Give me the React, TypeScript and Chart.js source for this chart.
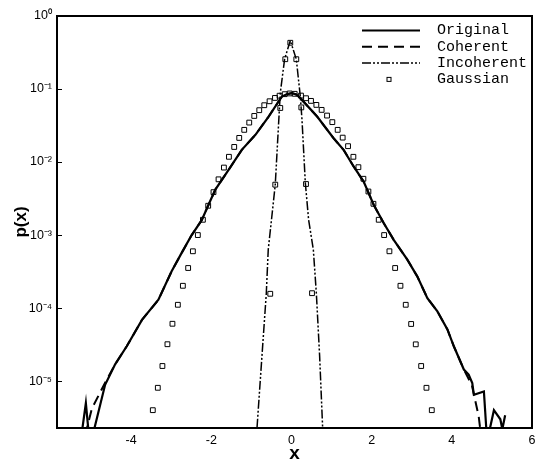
import React, { useEffect, useRef } from 'react';
import { Chart, registerables } from 'chart.js';

Chart.register(...registerables);

// ---- tick definitions ----
const xTickValues = [-4, -2, 0, 2, 4, 6];
const yTickValues = [1, 1e-1, 1e-2, 1e-3, 1e-4, 1e-5];
const yTickLabels = ['10⁰', '10⁻¹', '10⁻²', '10⁻³', '10⁻⁴', '10⁻⁵'];

// ---- series: Original (solid) ----
const originalX = [-5.26, -5.13, -5.04, -4.94, -4.65, -4.40, -4.11, -3.73, -3.32, -2.99, -2.74, -2.49, -2.24, -2.07, -1.90, -1.57, -1.24, -0.90, -0.57, -0.24, -0.12, 0.01, 0.12, 0.22, 0.64, 1.05, 1.30, 1.55, 1.80, 2.05, 2.30, 2.55, 2.89, 3.14, 3.39, 3.64, 3.89, 4.05, 4.30, 4.42, 4.51, 4.55, 4.80, 4.88, 5.05, 5.21, 5.26, 5.33];
const originalY = [1.5e-6, 5.0e-6, 1.5e-6, 2.0e-6, 8.9e-6, 1.7e-5, 3.0e-5, 6.9e-5, 1.3e-4, 3.2e-4, 5.7e-4, 1.0e-3, 1.6e-3, 2.6e-3, 4.2e-3, 7.8e-3, 1.47e-2, 2.36e-2, 4.2e-2, 7.9e-2, 8.5e-2, 8.8e-2, 8.4e-2, 7.5e-2, 4.2e-2, 2.12e-2, 1.47e-2, 8.7e-3, 5.4e-3, 2.6e-3, 1.46e-3, 8.6e-4, 4.6e-4, 2.7e-4, 1.37e-4, 9.0e-5, 5.1e-5, 3.0e-5, 1.44e-5, 1.23e-5, 9.4e-6, 6.5e-6, 7.2e-6, 1.5e-6, 4.0e-6, 3.0e-6, 2.2e-6, 3.4e-6];

// ---- series: Coherent (dashed) ----
const coherentX = [-5.15, -4.98, -4.65, -4.40, -4.11, -3.73, -3.32, -2.99, -2.74, -2.49, -2.24, -1.90, -1.57, -1.24, -0.90, -0.57, -0.24, -0.12, 0.01, 0.12, 0.22, 0.64, 1.05, 1.30, 1.55, 1.80, 2.05, 2.30, 2.55, 2.89, 3.14, 3.39, 3.64, 3.89, 4.05, 4.30, 4.50, 4.67, 4.74];
const coherentY = [1.8e-6, 4.2e-6, 9.5e-6, 1.7e-5, 3.0e-5, 6.9e-5, 1.3e-4, 3.2e-4, 5.7e-4, 1.0e-3, 1.6e-3, 4.2e-3, 7.8e-3, 1.47e-2, 2.36e-2, 4.2e-2, 7.9e-2, 8.5e-2, 8.8e-2, 8.4e-2, 7.5e-2, 4.2e-2, 2.12e-2, 1.47e-2, 8.7e-3, 5.4e-3, 2.6e-3, 1.46e-3, 8.6e-4, 4.6e-4, 2.7e-4, 1.37e-4, 9.0e-5, 5.1e-5, 3.0e-5, 1.44e-5, 8.8e-6, 3.3e-6, 1.6e-6];

// ---- series: Incoherent (dash-dot-dot) ----
const incoherentX = [-0.86, -0.737, -0.629, -0.58, -0.405, -0.28, -0.172, -0.03, 0.12, 0.22, 0.262, 0.345, 0.427, 0.545, 0.62, 0.702, 0.777];
const incoherentY = [2.3e-6, 2.2e-5, 1.57e-4, 6.3e-4, 4.9e-3, 8.8e-2, 0.256, 0.46, 0.256, 7.9e-2, 3.8e-2, 5.2e-3, 1.62e-3, 6.3e-4, 1.6e-4, 2.2e-5, 2.3e-6];

// ---- series: Gaussian (squares) ----
const gaussianX = [-3.46, -3.335, -3.22, -3.095, -2.97, -2.835, -2.71, -2.578, -2.46, -2.336, -2.21, -2.078, -1.946, -1.82, -1.686, -1.561, -1.429, -1.304, -1.179, -1.054, -0.929, -0.804, -0.679, -0.547, -0.412, -0.297, -0.17, -0.045, 0.08, 0.237, 0.362, 0.487, 0.62, 0.752, 0.887, 1.019, 1.152, 1.277, 1.411, 1.544, 1.669, 1.794, 1.919, 2.044, 2.176, 2.311, 2.443, 2.586, 2.718, 2.85, 2.985, 3.10, 3.235, 3.367, 3.50];
const gaussianY = [4.0e-6, 8.1e-6, 1.61e-5, 3.2e-5, 6.1e-5, 1.11e-4, 2.02e-4, 3.54e-4, 6.0e-4, 1.0e-3, 1.62e-3, 2.52e-3, 3.87e-3, 5.8e-3, 8.4e-3, 1.18e-2, 1.61e-2, 2.14e-2, 2.76e-2, 3.47e-2, 4.28e-2, 5.13e-2, 6.0e-2, 6.8e-2, 7.55e-2, 8.1e-2, 8.5e-2, 8.7e-2, 8.6e-2, 8.13e-2, 7.48e-2, 6.88e-2, 6.06e-2, 5.18e-2, 4.33e-2, 3.52e-2, 2.76e-2, 2.16e-2, 1.65e-2, 1.18e-2, 8.5e-3, 5.9e-3, 3.95e-3, 2.68e-3, 1.62e-3, 1.0e-3, 6.0e-4, 3.54e-4, 2.02e-4, 1.11e-4, 6.06e-5, 3.19e-5, 1.61e-5, 8.1e-6, 4.0e-6];

// Gaussian fit points of the incoherent part (same marker)
const gaussianIncX = [-0.53, -0.405, -0.28, -0.155, -0.03, 0.12, 0.245, 0.362, 0.512];
const gaussianIncY = [1.57e-4, 4.9e-3, 5.5e-2, 0.256, 0.43, 0.256, 5.6e-2, 5.0e-3, 1.6e-4];

const toPoints = (xs: number[], ys: number[]) => xs.map((x, i) => ({ x, y: ys[i] }));

const SANS = '"Liberation Sans", Arial, Helvetica, sans-serif';
const MONO = '"Liberation Mono", "Courier New", monospace';

const framePlugin = {
  id: 'frameAndTicks',
  afterDatasetsDraw(chart: any) {
    const { ctx, chartArea: a, scales } = chart;
    ctx.save();
    ctx.strokeStyle = '#000';
    ctx.lineWidth = 1;
    ctx.setLineDash([]);
    yTickValues.forEach((v) => {
      const y = Math.round(scales.y.getPixelForValue(v)) + 0.5;
      ctx.beginPath();
      ctx.moveTo(a.left, y);
      ctx.lineTo(a.left + 5, y);
      ctx.stroke();
    });
    ctx.lineWidth = 2;
    ctx.strokeRect(a.left, a.top, a.right - a.left, a.bottom - a.top);
    ctx.restore();
  },
};

const legendPlugin = {
  id: 'sideLegend',
  afterDraw(chart: any) {
    const { ctx, chartArea: a } = chart;
    const entries = chart.data.datasets.filter((d: any) => !d.hideInLegend);
    ctx.save();
    ctx.font = `15px ${MONO}`;
    ctx.textBaseline = 'middle';
    ctx.textAlign = 'left';
    entries.forEach((d: any, i: number) => {
      const y = a.top + 14.5 + i * 16.3;
      const x0 = a.right - 170;
      const x1 = a.right - 112;
      ctx.strokeStyle = '#000';
      if (d.showLine === false) {
        ctx.setLineDash([]);
        ctx.lineWidth = 1;
        const cx = (x0 + x1) / 2 - 2;
        ctx.strokeRect(cx - 2, y - 2, 4, 4);
      } else {
        ctx.setLineDash(d.borderDash || []);
        ctx.lineWidth = d.borderWidth;
        ctx.beginPath();
        ctx.moveTo(x0, y);
        ctx.lineTo(x1, y);
        ctx.stroke();
      }
      ctx.setLineDash([]);
      ctx.fillStyle = '#000';
      ctx.fillText(d.label, a.right - 95, y);
    });
    ctx.restore();
  },
};

export default function App() {
  const canvasRef = useRef<HTMLCanvasElement | null>(null);

  useEffect(() => {
    if (!canvasRef.current) return;
    const lineCommon = {
      showLine: true,
      pointRadius: 0,
      borderColor: '#000',
      backgroundColor: '#000',
      tension: 0,
      fill: false,
    };
    const chart = new Chart(canvasRef.current, {
      type: 'scatter',
      data: {
        datasets: [
          {
            ...lineCommon,
            label: 'Original',
            data: toPoints(originalX, originalY),
            borderWidth: 2.2,
            borderDash: [],
          },
          {
            ...lineCommon,
            label: 'Coherent',
            data: toPoints(coherentX, coherentY),
            borderWidth: 2,
            borderDash: [10, 6],
          },
          {
            ...lineCommon,
            label: 'Incoherent',
            data: toPoints(incoherentX, incoherentY),
            borderWidth: 1.5,
            borderDash: [9, 2, 2, 2, 2, 2],
          },
          {
            label: 'Gaussian',
            data: toPoints(gaussianX, gaussianY),
            showLine: false,
            pointStyle: 'rect',
            pointRadius: 3.4,
            pointBorderWidth: 1,
            borderColor: '#000',
            backgroundColor: 'rgba(255,255,255,0)',
          },
          {
            label: 'Gaussian (incoherent)',
            hideInLegend: true,
            data: toPoints(gaussianIncX, gaussianIncY),
            showLine: false,
            pointStyle: 'rect',
            pointRadius: 3.4,
            pointBorderWidth: 1,
            borderColor: '#000',
            backgroundColor: 'rgba(255,255,255,0)',
          },
        ] as any,
      },
      options: {
        animation: false,
        responsive: false,
        maintainAspectRatio: false,
        layout: { padding: { top: 16, right: 11, left: 0, bottom: 0 } },
        plugins: {
          legend: { display: false },
          tooltip: { enabled: false },
        },
        scales: {
          x: {
            type: 'linear',
            min: -5.85,
            max: 6,
            afterBuildTicks: (s: any) => {
              s.ticks = xTickValues.map((v) => ({ value: v }));
            },
            afterFit: (s: any) => {
              s.height = 34;
            },
            grid: { display: false, drawTicks: false },
            border: { display: false },
            ticks: {
              color: '#000',
              padding: 5,
              maxRotation: 0,
              autoSkip: false,
              font: { family: SANS, size: 12.5 },
            },
            title: {
              display: true,
              text: 'x',
              color: '#000',
              padding: 0,
              font: { family: SANS, size: 19, weight: 'bold', lineHeight: '16px' },
            },
          },
          y: {
            type: 'logarithmic',
            min: 2.28e-6,
            max: 1,
            afterBuildTicks: (s: any) => {
              s.ticks = yTickValues.map((v) => ({ value: v }));
            },
            afterFit: (s: any) => {
              s.width = 57;
            },
            grid: { display: false, drawTicks: false },
            border: { display: false },
            ticks: {
              color: '#000',
              padding: 5,
              autoSkip: false,
              font: { family: SANS, size: 12.5 },
              callback: (v: any) => {
                const i = yTickValues.findIndex((t) => Math.abs(Math.log10(t) - Math.log10(Number(v))) < 1e-6);
                return i >= 0 ? yTickLabels[i] : '';
              },
            },
            title: {
              display: true,
              text: 'p(x)',
              color: '#000',
              padding: { top: 11, bottom: 0 },
              font: { family: SANS, size: 17, weight: 'bold', lineHeight: 1.2 },
            },
          },
        },
      } as any,
      plugins: [framePlugin, legendPlugin],
    });
    return () => chart.destroy();
  }, []);

  return (
    <div style={{ position: 'fixed', left: 0, top: 0, width: 543, height: 462, background: '#fff' }}>
      <canvas ref={canvasRef} width={543} height={462} style={{ width: 543, height: 462, display: 'block' }} />
    </div>
  );
}
